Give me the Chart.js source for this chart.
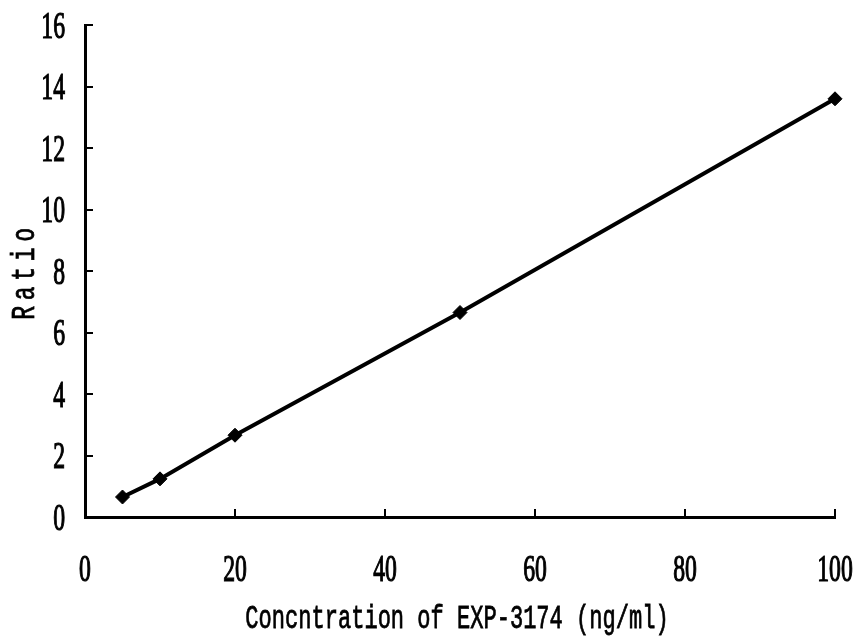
<!DOCTYPE html>
<html>
<head>
<meta charset="utf-8">
<script src="https://cdn.jsdelivr.net/npm/chart.js@4.4.0/dist/chart.umd.min.js"></script>
<style>
html,body{margin:0;padding:0;background:#fff;}
#wrap{width:861px;height:640px;}
</style>
</head>
<body>
<div id="wrap"><canvas id="c" width="861" height="640"></canvas></div>
<script>
const concentrations = [5, 10, 20, 50, 100];
const ratios = [0.65, 1.24, 2.66, 6.65, 13.6];
const xTicks = [0, 20, 40, 60, 80, 100];
const yTicks = [0, 2, 4, 6, 8, 10, 12, 14, 16];
const xTitle = 'Concntration of EXP-3174 (ng/ml)';
const yTitle = 'Ratio';

const tickFont = {family: "'Liberation Serif', 'DejaVu Serif', serif", size: 37};
const titleFont = {family: "'Liberation Mono', 'DejaVu Sans Mono', monospace", size: 33};

// Condensed text rendering: horizontally squeeze glyphs around the anchor point
const canvas = document.getElementById('c');
const ctx0 = canvas.getContext('2d');
const rawFillText = ctx0.fillText.bind(ctx0);
let squeeze = 1;
let shiftX = 0, shiftY = 0, thicken = 0;
ctx0.fillText = function(text, x, y, maxWidth) {
  if (squeeze === 1) return rawFillText(text, x, y, maxWidth);
  this.save();
  this.translate(x + shiftX, y + shiftY);
  this.scale(squeeze, 1);
  rawFillText(text, 0, 0);
  if (thicken) {
    this.lineWidth = thicken;
    this.strokeStyle = this.fillStyle;
    this.strokeText(text, 0, 0);
  }
  this.restore();
};

const chart = new Chart(canvas, {
  type: 'scatter',
  data: {
    datasets: [{
      data: concentrations.map((x, i) => ({x: x, y: ratios[i]})),
      showLine: true,
      clip: false,
      borderColor: '#000',
      backgroundColor: '#000',
      borderWidth: 4,
      pointStyle: 'rectRot',
      pointRadius: 7,
      pointBackgroundColor: '#000',
      pointBorderColor: '#000',
      pointBorderWidth: 1,
      tension: 0
    }]
  },
  options: {
    responsive: false,
    animation: false,
    devicePixelRatio: 1,
    layout: {padding: {top: 25, right: 26, left: 0, bottom: 0}},
    plugins: {legend: {display: false}, tooltip: {enabled: false}},
    scales: {
      x: {
        type: 'linear',
        min: 0, max: 100,
        afterBuildTicks: s => { s.ticks = xTicks.map(v => ({value: v})); },
        afterFit: s => { s.height = 123; s.paddingLeft = 0; s.paddingRight = 0; },
        grid: {drawOnChartArea: false, drawTicks: true, tickLength: -8, color: '#000', lineWidth: 2},
        border: {display: true, color: '#000', width: 3},
        ticks: {color: '#000', font: tickFont, padding: 40, maxRotation: 0, autoSkip: false},
        title: {display: true, text: xTitle, color: '#000', font: titleFont, padding: {top: 0, bottom: 1}}
      },
      y: {
        type: 'linear',
        min: 0, max: 16,
        afterBuildTicks: s => { s.ticks = yTicks.map(v => ({value: v})); },
        afterFit: s => { s.width = 85; s.paddingTop = 0; s.paddingBottom = 0; },
        grid: {drawOnChartArea: false, drawTicks: true, tickLength: -8, color: '#000', lineWidth: 2},
        border: {display: true, color: '#000', width: 3},
        ticks: {color: '#000', font: tickFont, padding: 28, autoSkip: false},
        title: {display: true, text: yTitle, color: '#000', font: titleFont, padding: {top: 5, bottom: 0}}
      }
    }
  }
});

function wrapScale(scale, opts) {
  const origLabels = scale.drawLabels;
  scale.drawLabels = function() {
    squeeze = 0.64; shiftX = 0; shiftY = opts.labelShiftY || 0; thicken = 1.2;
    try { origLabels.apply(this, arguments); } finally { squeeze = 1; shiftX = 0; shiftY = 0; thicken = 0; }
  };
  const origTitle = scale.drawTitle;
  scale.drawTitle = function() {
    const ctx = this.ctx;
    ctx.save();
    if (opts.letterSpacing) ctx.letterSpacing = opts.letterSpacing;
    squeeze = opts.titleSqueeze; shiftX = 0; shiftY = 0; thicken = 0.8;
    ctx.translate(opts.titleShiftX || 0, 0);
    try { origTitle.apply(this, arguments); } finally { squeeze = 1; thicken = 0; ctx.restore(); }
  };
}
wrapScale(chart.scales.x, {titleSqueeze: 0.668, titleShiftX: -3});
wrapScale(chart.scales.y, {titleSqueeze: 0.7, letterSpacing: '8px', labelShiftY: 3});
chart.draw();
</script>
</body>
</html>
